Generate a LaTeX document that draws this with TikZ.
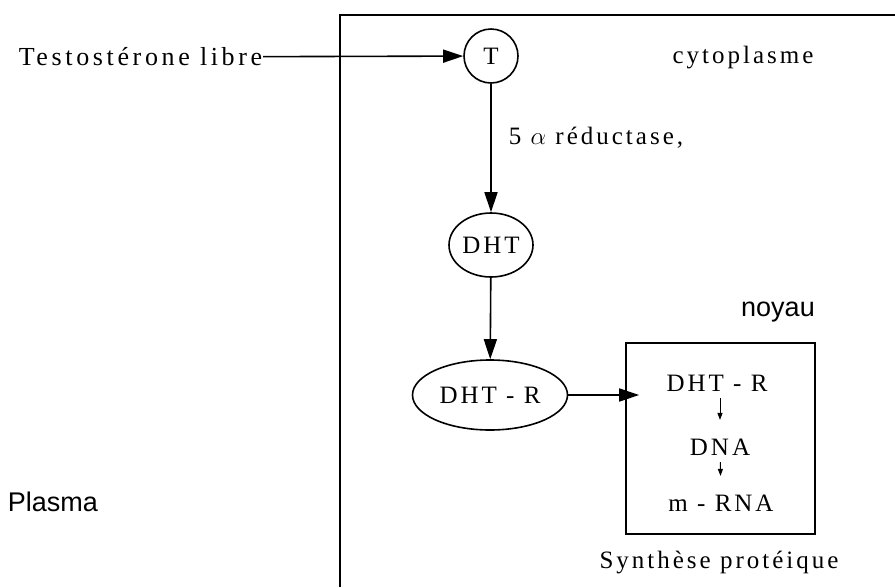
\documentclass[tikz,border=0pt]{standalone}
\usepackage{fontspec}
\setmainfont{Liberation Serif}[LetterSpace=12]
\setsansfont{Liberation Sans}
\usetikzlibrary{positioning,shapes.geometric,arrows.meta}
\tikzset{>={Triangle[length=20pt,width=13pt]}}

\begin{document}
\begin{tikzpicture}[
    x=1pt, y=-1pt,
    line width=1.6pt,
    every node/.style={font=\fontsize{25}{28}\selectfont},
    txt/.style={inner sep=0pt},
    sanstxt/.style={inner sep=0pt, font=\sffamily\fontsize{27}{30}\selectfont},
    molecule/.style={ellipse, draw, inner sep=0pt},
    small/.style={-{Triangle[length=7pt,width=5pt]}, line width=1pt}
]
\useasboundingbox (0,0) rectangle (895,587);

% membrane
\draw (340,587) -- (340,15) -- (895,15);

\node[txt, anchor=east, font=\addfontfeatures{LetterSpace=14}\fontsize{26}{28}\selectfont] (testo) at (263,57) {Testostérone libre};
\node[circle, draw, minimum size=54pt, inner sep=0pt] (T) at (491,56) {T};
\node[txt] (cyto) at (743,58) {cytoplasme};
\node[molecule, minimum width=84pt, minimum height=64pt] (dht) at (491,245) {DHT};
\node[molecule, minimum width=155pt, minimum height=70pt] (dhtr) at (490,395) {DHT - R};
\node[sanstxt] (plasma) at (53,502) {Plasma};

% noyau
\node[sanstxt] (noyau) at (778,312) {noyau};
\node[draw, minimum width=189pt, minimum height=191pt, inner sep=0pt] (box) at (720.5,438.5) {};
\node[txt] (rin) at (717,383) {DHT - R};
\node[txt] (dna) at (720,447) {DNA};
\node[txt] (mrna) at (721,503) {m - RNA};
\node[txt] (synth) at (719,562) {Synthèse protéique};

\draw[->] (testo) -- (T);
\draw[->] (T) -- (dht) node[txt, pos=0.42, anchor=west, xshift=17pt] {5 $\alpha$ réductase,};
\draw[->] (dht) -- (dhtr);
\draw[->, shorten >=-14pt] (dhtr) -- (dhtr -| box.west);
\draw[small, shorten <=6pt, shorten >=18pt] (rin.south -| dna) -- (dna);
\draw[small, shorten <=6pt, shorten >=18pt] (dna) -- (mrna);
\end{tikzpicture}
\end{document}
